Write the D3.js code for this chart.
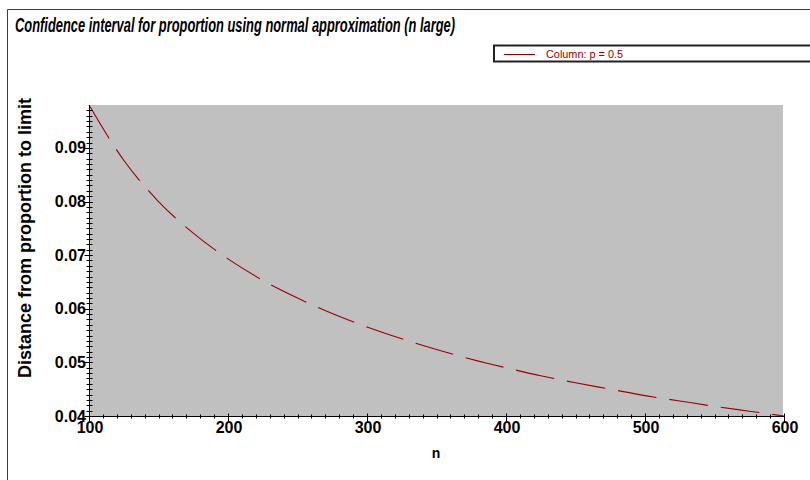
<!DOCTYPE html>
<html>
<head>
<meta charset="utf-8">
<script src="https://cdn.jsdelivr.net/npm/d3@7"></script>
<style>
  body { margin: 0; background: #fff; }
  svg { display: block; }
</style>
</head>
<body>
<div id="chart"></div>
<script>
var Chart = {};

// values
var nValues = [100, 125, 150, 175, 200, 225, 250, 275, 300, 325, 350,
               375, 400, 425, 450, 475, 500, 525, 550, 575, 600];
var distValues = [0.0980, 0.0877, 0.0800, 0.0741, 0.0693, 0.0653, 0.0620,
                  0.0591, 0.0566, 0.0544, 0.0524, 0.0506, 0.0490, 0.0475,
                  0.0462, 0.0450, 0.0438, 0.0428, 0.0418, 0.0409, 0.0400];
var xTickValues = [100, 200, 300, 400, 500, 600];
var yTickValues = [0.04, 0.05, 0.06, 0.07, 0.08, 0.09];
var titleText = "Confidence interval for proportion using normal approximation (n large)";
var legendText = "Column: p = 0.5";
var xLabel = "n";
var yLabel = "Distance from proportion to limit";

Chart.makeChart = function (width, height) {
    var red = "#990000";
    var frame = "#8b1a1a";
    var x = d3.scaleLinear().domain([100, 600]).range([89, 784]);
    var y = d3.scaleLinear().domain([0.04, 0.098]).range([416, 105]);

    var svg = d3.create("svg")
        .attr("width", width)
        .attr("height", height)
        .attr("viewBox", [0, 0, width, height]);

    // outer frame (only top and left visible)
    svg.append("line").attr("x1", 7.5).attr("x2", width).attr("y1", 9.5).attr("y2", 9.5)
        .attr("stroke", frame).attr("stroke-width", 1);
    svg.append("line").attr("x1", 7.5).attr("x2", 7.5).attr("y1", 9.5).attr("y2", height)
        .attr("stroke", frame).attr("stroke-width", 1);

    svg.append("text")
        .attr("x", 15)
        .attr("y", 31.5)
        .attr("font-family", "'Liberation Sans Narrow', 'Liberation Sans', Arial, sans-serif")
        .attr("font-size", 20)
        .attr("font-weight", "bold")
        .attr("font-style", "italic")
        .attr("textLength", 440)
        .attr("lengthAdjust", "spacingAndGlyphs")
        .text(titleText);

    // legend
    var lg = svg.append("g");
    lg.append("rect")
        .attr("x", 494).attr("y", 45.5)
        .attr("width", 400).attr("height", 16)
        .attr("fill", "#fff").attr("stroke", "#222").attr("stroke-width", 2);
    lg.append("line")
        .attr("x1", 504).attr("x2", 535).attr("y1", 54.5).attr("y2", 54.5)
        .attr("stroke", red).attr("stroke-width", 1);
    lg.append("text")
        .attr("x", 546).attr("y", 58)
        .attr("font-family", "'Liberation Sans Narrow', 'Liberation Sans', Arial, sans-serif")
        .attr("font-size", 11.5)
        .attr("fill", red)
        .attr("textLength", 77)
        .attr("lengthAdjust", "spacingAndGlyphs")
        .text(legendText);

    // plot background
    svg.append("rect")
        .attr("x", x(100)).attr("y", y(0.098))
        .attr("width", x(600) - x(100) - 1).attr("height", y(0.04) - y(0.098))
        .attr("fill", "#c0c0c0");

    // curve
    var line = d3.line()
        .x((d, i) => x(nValues[i]))
        .y(d => y(d))
        .curve(d3.curveMonotoneX);
    svg.append("path")
        .datum(distValues)
        .attr("d", line)
        .attr("fill", "none")
        .attr("stroke", red)
        .attr("stroke-width", 1.1)
        .attr("stroke-dasharray", "39,13");

    // axes
    var axes = svg.append("g").attr("stroke", "#000").attr("stroke-width", 1);
    var x0 = Math.round(x(100)) + 0.5;
    var y0 = Math.round(y(0.04)) + 0.5;
    axes.append("line").attr("x1", x0).attr("x2", x0).attr("y1", y(0.098)).attr("y2", y0);
    axes.append("line").attr("x1", x0).attr("x2", x(600)).attr("y1", y0).attr("y2", y0);

    var yMinor = d3.range(40, 98).map(v => v / 1000);
    axes.selectAll(".ymin").data(yMinor).join("line")
        .attr("x1", x0 - 3).attr("x2", x0 + 3)
        .attr("y1", d => Math.round(y(d)) + 0.5).attr("y2", d => Math.round(y(d)) + 0.5);
    axes.selectAll(".ymaj").data(yTickValues).join("line")
        .attr("x1", x0 - 5).attr("x2", x0 + 3)
        .attr("y1", d => Math.round(y(d)) + 0.5).attr("y2", d => Math.round(y(d)) + 0.5);

    var xMinor = d3.range(100, 601, 10);
    axes.selectAll(".xmin").data(xMinor).join("line")
        .attr("x1", d => Math.round(x(d)) + 0.5).attr("x2", d => Math.round(x(d)) + 0.5)
        .attr("y1", y0 - 2).attr("y2", y0 + 2);
    axes.selectAll(".xmaj").data(xTickValues).join("line")
        .attr("x1", d => Math.round(x(d)) + 0.5).attr("x2", d => Math.round(x(d)) + 0.5)
        .attr("y1", y0 - 3).attr("y2", y0 + 5);

    var labels = svg.append("g")
        .attr("font-family", "'Liberation Sans', Arial, sans-serif")
        .attr("font-weight", "bold")
        .attr("fill", "#000");

    labels.selectAll(".yl").data(yTickValues).join("text")
        .attr("x", 86)
        .attr("y", d => y(d))
        .attr("dy", "0.35em")
        .attr("text-anchor", "end")
        .attr("font-size", 16)
        .text(d => d3.format(".2f")(d));

    labels.selectAll(".xl").data(xTickValues).join("text")
        .attr("x", d => x(d) + 1)
        .attr("y", 433)
        .attr("text-anchor", "middle")
        .attr("font-size", 16)
        .text(d => d);

    labels.append("text")
        .attr("x", 436).attr("y", 458)
        .attr("text-anchor", "middle")
        .attr("font-size", 14)
        .text(xLabel);

    labels.append("text")
        .attr("transform", "translate(31,238) rotate(-90)")
        .attr("text-anchor", "middle")
        .attr("font-size", 18)
        .text(yLabel);

    return svg.node();
}

document.getElementById("chart").append(Chart.makeChart(810, 480));
</script>
</body>
</html>
